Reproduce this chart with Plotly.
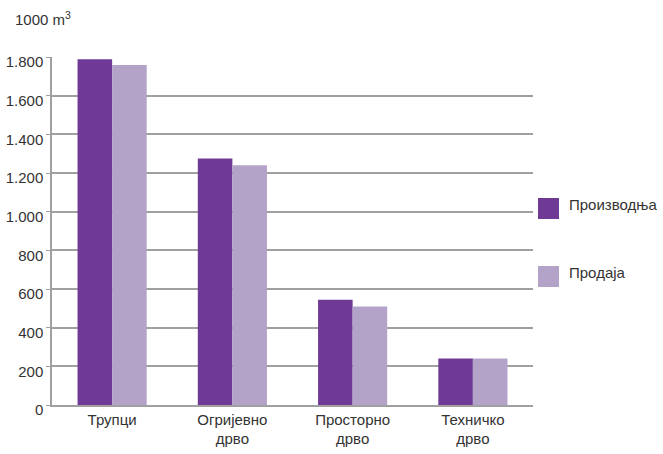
"""Производња и продаја дрвних сортимената (1000 m3) — grouped bar chart."""
import plotly.graph_objects as go

# ---- подаци ------------------------------------------------------------
categories = ["Трупци", "Огријевно<br>дрво", "Просторно<br>дрво", "Техничко<br>дрво"]
production = [1788, 1275, 545, 240]   # Производња
sales = [1758, 1240, 509, 240]        # Продаја
series_names = ["Производња", "Продаја"]

_DARK, _LIGHT = "#6f3a96", "#b3a3c9"
_GRID = "#a0a0a0"
_TEXT = "#333333"
FONT = "Liberation Sans, Arial, sans-serif"

W, H = 663, 454
M = dict(l=52, r=130, t=57, b=49)


def px_x(px: float) -> float:
    return (px - M["l"]) / (W - M["l"] - M["r"])


def px_y(px: float) -> float:
    return (H - M["b"] - px) / (H - M["t"] - M["b"])


fig = go.Figure()
for name, vals, color in [(series_names[0], production, _DARK),
                          (series_names[1], sales, _LIGHT)]:
    fig.add_trace(go.Bar(x=categories, y=vals, name=name, marker_color=color,
                         marker_line_width=0, showlegend=False))

# ручна легенда (већи квадрати као у оригиналу)
shapes, annotations = [], []
for i, (name, color) in enumerate(zip(series_names, [_DARK, _LIGHT])):
    top = 198 + i * 68
    shapes.append(dict(type="rect", xref="paper", yref="paper",
                       x0=px_x(538), x1=px_x(559), y0=px_y(top + 21), y1=px_y(top),
                       fillcolor=color, line_width=0))
    annotations.append(dict(text=name, xref="paper", yref="paper",
                            x=px_x(567), y=px_y(top + 6), xanchor="left", yanchor="middle",
                            showarrow=False, font=dict(size=15, color=_TEXT, family=FONT)))

annotations.append(dict(text="1000 m<sup>3</sup>", xref="paper", yref="paper",
                        x=px_x(13), y=px_y(19), xanchor="left", yanchor="middle",
                        showarrow=False, font=dict(size=15, color=_TEXT, family=FONT)))

fig.update_layout(
    width=W, height=H, margin=M, barmode="group", bargap=0.425, bargroupgap=0,
    plot_bgcolor="white", paper_bgcolor="white", separators=",.",
    font=dict(family=FONT, size=15, color=_TEXT),
    shapes=shapes, annotations=annotations,
)
fig.update_yaxes(range=[0, 1800], dtick=200, tickformat=",d", showgrid=True,
                 gridcolor=_GRID, gridwidth=1.5, showline=True, linecolor=_GRID,
                 linewidth=1.5, ticks="outside", ticklen=4, tickcolor=_GRID,
                 ticklabelshift=5, zeroline=False, automargin=False)
fig.update_xaxes(showline=True, linecolor=_GRID, linewidth=1.5, ticks="",
                 tickfont=dict(size=15, color=_TEXT), automargin=False)

# без подразумеване маргине странице и без modebar-а
fig.write_html("out.html", config={"displayModeBar": False},
               post_script="document.body.style.margin='0';")
